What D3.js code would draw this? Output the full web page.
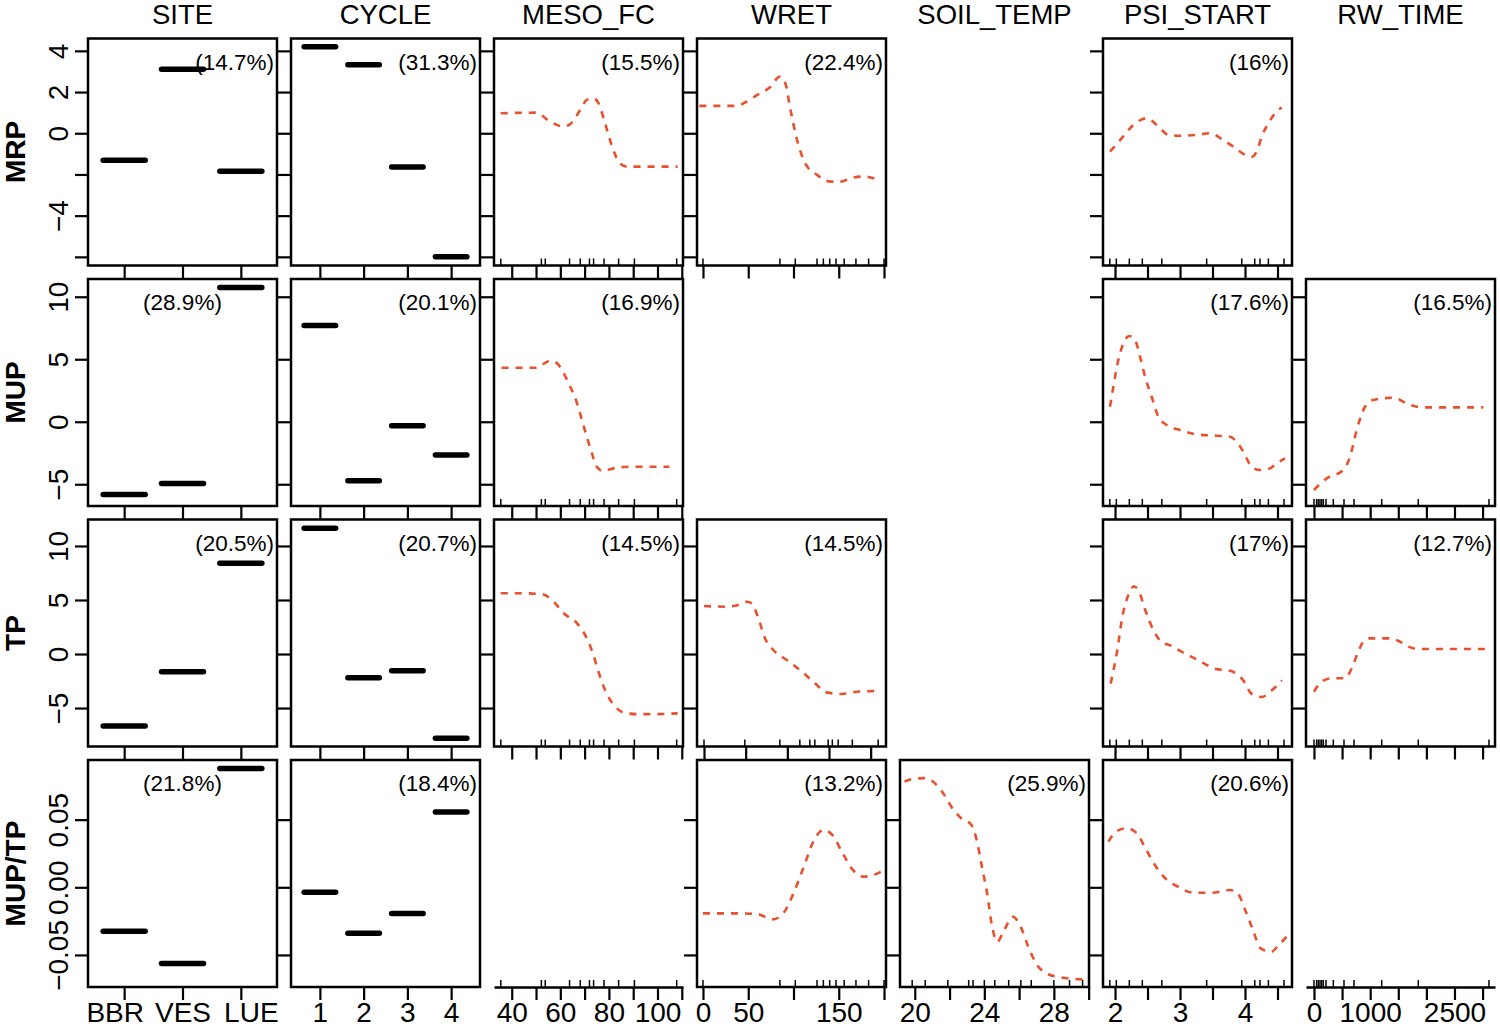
<!DOCTYPE html>
<html>
<head>
<meta charset="utf-8">
<script src="https://cdn.jsdelivr.net/npm/d3@7"></script>
<style>
  body { margin: 0; background: #fff; }
  svg text { font-family: "Liberation Sans", Arial, Helvetica, sans-serif; fill: #000; }
</style>
</head>
<body>
<div id="chart"></div>
<script>
// rows = responses, columns = predictors
var responses = ["MRP", "MUP", "TP", "MUP/TP"];
var predictors = ["SITE", "CYCLE", "MESO_FC", "WRET", "SOIL_TEMP", "PSI_START", "RW_TIME"];

// factor levels
var siteLevels = ["BBR", "VES", "LUE"];
var cycleLevels = ["1", "2", "3", "4"];

// relative influence (%), null = predictor not in the model
var infMRP = [14.7, 31.3, 15.5, 22.4, null, 16, null];
var infMUP = [28.9, 20.1, 16.9, null, null, 17.6, 16.5];
var infTP = [20.5, 20.7, 14.5, 14.5, null, 17, 12.7];
var infRatio = [21.8, 18.4, null, 13.2, 25.9, 20.6, null];

// y limits and ticks for each response
var limMRP = [-6.42, 4.6];
var limMUP = [-6.74, 11.42];
var limTP = [-8.56, 12.45];
var limRatio = [-0.0737, 0.0941];
var ticksMRP = [-6, -4, -2, 0, 2, 4];
var labelsMRP = ["", "\u22124", "", "0", "2", "4"];
var ticksMUP = [-5, 0, 5, 10];
var labelsMUP = ["\u22125", "0", "5", "10"];
var ticksTP = [-5, 0, 5, 10];
var labelsTP = ["\u22125", "0", "5", "10"];
var ticksRatio = [-0.05, 0, 0.05];
var labelsRatio = ["\u22120.05", "0.00", "0.05"];

// factor effects
var siteMRP = [-1.31, 3.11, -1.84];
var siteMUP = [-5.81, -4.93, 10.75];
var siteTP = [-6.67, -1.64, 8.4];
var siteRatio = [-0.0324, -0.0563, 0.0879];
var cycleMRP = [4.2, 3.33, -1.64, -6.0];
var cycleMUP = [7.71, -4.72, -0.32, -2.66];
var cycleTP = [11.64, -2.19, -1.54, -7.8];
var cycleRatio = [-0.0037, -0.0339, -0.0193, 0.0556];

// partial dependence curves [x, effect]
var mesoMRP = [[35.5, 0.97], [49.8, 1.0], [55.9, 0.56], [61.4, 0.32], [64.1, 0.45], [68.2, 1.13], [70.9, 1.62], [73.6, 1.7], [75.7, 1.46], [78.4, 0.49], [81.8, -0.81], [84.5, -1.46], [87.3, -1.62], [95.4, -1.62], [108.3, -1.62]];
var mesoMUP = [[35.8, 4.32], [45.1, 4.32], [49.8, 4.32], [55.9, 4.88], [58.7, 4.67], [61.4, 3.87], [64.1, 2.8], [66.9, 1.47], [68.9, 0.14], [70.9, -1.2], [73, -2.53], [75, -3.6], [77.5, -3.94], [81.8, -3.73], [88.6, -3.6], [104.9, -3.6]];
var mesoTP = [[35.5, 5.62], [45.1, 5.62], [52.6, 5.53], [56.6, 5.0], [61.4, 3.77], [66.9, 2.84], [70.9, 1.45], [73.6, -0.09], [75.7, -1.64], [78.4, -3.33], [81.8, -4.66], [85.9, -5.4], [91.3, -5.56], [99.5, -5.56], [108.3, -5.49]];
var wretMRP = [[-4, 1.33], [11, 1.33], [37, 1.33], [48, 1.53], [60, 1.86], [74, 2.23], [85, 2.75], [91, 2.43], [96, 1.29], [104, -0.33], [113, -1.46], [126, -2.02], [141, -2.35], [152, -2.35], [163, -2.18], [178, -2.1], [194, -2.27]];
var wretTP = [[0, 4.44], [27.2, 4.38], [41.2, 4.54], [51.3, 4.84], [57.3, 4.69], [65.2, 3.31], [73.2, 1.45], [83.2, 0.37], [99.3, -0.56], [115.2, -1.48], [131.2, -2.56], [147.3, -3.55], [165.3, -3.7], [183.3, -3.49], [211.3, -3.43]];
var wretRatio = [[0, -0.0193], [20, -0.0193], [42.9, -0.0193], [59.9, -0.0198], [77.1, -0.0237], [88.6, -0.0193], [100, -0.0044], [111.4, 0.0153], [122.8, 0.035], [133.1, 0.0424], [142.8, 0.0387], [154.3, 0.0252], [165.7, 0.0128], [177.1, 0.0079], [188.6, 0.0091], [197.1, 0.0116]];
var soilRatio = [[19.41, 0.0782], [19.85, 0.08], [20.59, 0.0807], [21.04, 0.0782], [21.63, 0.0696], [22.22, 0.0573], [22.67, 0.0511], [23.26, 0.0461], [23.56, 0.035], [23.86, 0.0153], [24.16, -0.0044], [24.45, -0.0292], [24.75, -0.0403], [25.05, -0.0341], [25.64, -0.0218], [26.09, -0.0292], [26.53, -0.044], [26.98, -0.0563], [27.57, -0.0637], [28.46, -0.0667], [29.65, -0.0681]];
var psiMRP = [[1.923, -0.89], [2.103, -0.24], [2.282, 0.4], [2.487, 0.73], [2.564, 0.61], [2.718, 0.16], [2.82, -0.08], [3.0, -0.12], [3.256, -0.08], [3.462, 0.0], [3.667, -0.33], [3.82, -0.65], [3.974, -1.0], [4.103, -1.14], [4.18, -0.89], [4.256, -0.17], [4.36, 0.49], [4.487, 1.05], [4.564, 1.25]];
var psiMUP = [[1.923, 1.2], [1.974, 2.8], [2.051, 4.94], [2.128, 6.27], [2.22, 6.86], [2.308, 6.54], [2.385, 5.2], [2.462, 3.6], [2.564, 2.0], [2.667, 0.4], [2.795, -0.26], [3.0, -0.66], [3.256, -1.01], [3.564, -1.12], [3.769, -1.2], [3.872, -1.6], [3.974, -2.4], [4.103, -3.6], [4.231, -3.86], [4.385, -3.73], [4.487, -3.33], [4.615, -2.93]];
var psiTP = [[1.932, -2.74], [2.026, 0.04], [2.122, 3.74], [2.215, 5.59], [2.291, 6.27], [2.372, 5.74], [2.466, 4.05], [2.592, 2.19], [2.717, 1.11], [2.843, 0.81], [3.031, 0.19], [3.283, -0.58], [3.534, -1.35], [3.785, -1.57], [3.974, -2.44], [4.098, -3.67], [4.255, -3.98], [4.412, -3.36], [4.569, -2.44]];
var psiRatio = [[1.898, 0.0338], [2.017, 0.0412], [2.177, 0.0437], [2.335, 0.04], [2.454, 0.0301], [2.614, 0.0165], [2.772, 0.0067], [2.971, 0.0004], [3.209, -0.004], [3.488, -0.004], [3.766, -0.002], [3.885, -0.0044], [4.003, -0.0168], [4.122, -0.0316], [4.241, -0.0452], [4.4, -0.0477], [4.52, -0.0427], [4.638, -0.0366]];
var rwMUP = [[0, -5.46], [226, -4.53], [521, -3.86], [641, -2.8], [760, -0.66], [907, 1.2], [1055, 1.74], [1411, 1.92], [1708, 1.34], [1945, 1.15], [2301, 1.15], [3012, 1.15]];
var rwTP = [[0, -3.49], [137, -2.56], [315, -2.25], [552, -2.25], [671, -1.33], [789, 0.22], [878, 1.14], [996, 1.45], [1352, 1.45], [1530, 1.14], [1679, 0.68], [1856, 0.46], [2242, 0.46], [3132, 0.46]];

// x limits, ticks and tick labels of the continuous predictors
var mesoLim = [32.7, 110.5];
var mesoTicks = [40, 50, 60, 70, 80, 90, 100, 110];
var mesoLabels = ["40", "", "60", "", "80", "", "100", ""];
var wretLim = [-6.6, 202.2];
var wretLimTP = [-8.4, 218.4];
var wretTicks = [0, 50, 100, 150, 200];
var wretLabels = ["0", "50", "", "150", ""];
var soilLim = [19.15, 30.02];
var soilTicks = [20, 22, 24, 26, 28, 30];
var soilLabels = ["20", "", "24", "", "28", ""];
var psiLim = [1.815, 4.723];
var psiTicks = [2, 2.5, 3, 3.5, 4, 4.5];
var psiLabels = ["2", "", "3", "", "4", ""];
var rwLim = [-142, 3221];
var rwTicks = [0, 500, 1000, 1500, 2000, 2500, 3000];
var rwLabels = ["0", "", "1000", "", "", "2500", ""];

// rug (deciles of the predictor)
var mesoRug = [35.5, 52.2, 53.8, 63.8, 68.2, 72, 73.7, 78, 84, 90.5, 107.9];
var wretRug = [0, 85, 102, 126, 133, 140, 147, 156, 169, 183, 200];
var wretRugTP = [0, 49, 91, 115, 127, 133, 149, 154, 161, 178, 209];
var soilRug = [19.85, 20.6, 21.9, 23.1, 23.35, 24.0, 24.6, 25.4, 26.1, 26.7, 28.0, 28.9, 29.65];
var psiRug = [1.92, 2.02, 2.22, 2.42, 2.72, 3.41, 3.95, 4.15, 4.23, 4.36, 4.6];
var rwRug = [0, 47, 77, 107, 137, 166, 214, 344, 534, 712, 1205, 1856, 3114];

// layout / style
var W = 1500, H = 1029;
var left0 = 88, top0 = 38.5, panelW = 189, panelH = 227, stepX = 203, stepY = 240.5;
var tickLen = 13, rugLen = 7;
var curveColor = "#e8502e";
var siteLabelShift = [-9.5, 0, 10]; // the site names are spread a little wider than their ticks
var centeredInfluence = ["MUP|SITE", "MUP/TP|SITE"]; // influence text put at top centre

var rows = [
    {name: responses[0], yLim: limMRP, yTicks: ticksMRP, yLabels: labelsMRP, site: siteMRP, cycle: cycleMRP,
        curves: [null, null, mesoMRP, wretMRP, null, psiMRP, null], inf: infMRP, wretLim: wretLim, wretRug: wretRug},
    {name: responses[1], yLim: limMUP, yTicks: ticksMUP, yLabels: labelsMUP, site: siteMUP, cycle: cycleMUP,
        curves: [null, null, mesoMUP, null, null, psiMUP, rwMUP], inf: infMUP, wretLim: wretLim, wretRug: wretRug},
    {name: responses[2], yLim: limTP, yTicks: ticksTP, yLabels: labelsTP, site: siteTP, cycle: cycleTP,
        curves: [null, null, mesoTP, wretTP, null, psiTP, rwTP], inf: infTP, wretLim: wretLimTP, wretRug: wretRugTP},
    {name: responses[3], yLim: limRatio, yTicks: ticksRatio, yLabels: labelsRatio, site: siteRatio, cycle: cycleRatio,
        curves: [null, null, null, wretRatio, soilRatio, psiRatio, null], inf: infRatio, wretLim: wretLim, wretRug: wretRug}
];

var contLim = [null, null, mesoLim, null, soilLim, psiLim, rwLim];
var contTicks = [null, null, mesoTicks, wretTicks, soilTicks, psiTicks, rwTicks];
var contLabels = [null, null, mesoLabels, wretLabels, soilLabels, psiLabels, rwLabels];
var contRug = [null, null, mesoRug, null, soilRug, psiRug, rwRug];

// R style axis range: data range widened by 4%
function rPad(lim) {
    "use strict";
    var d = (lim[1] - lim[0]) * 0.04;
    return [lim[0] - d, lim[1] + d];
}

var svg = d3.select("#chart")
    .append("svg")
    .attr("width", W)
    .attr("height", H);

svg.append("rect")
    .attr("width", W)
    .attr("height", H)
    .attr("fill", "#fff");

//Column titles
predictors.forEach(function (p, c) {
    svg.append("text")
        .attr("x", left0 + c * stepX + panelW / 2)
        .attr("y", 24)
        .attr("text-anchor", "middle")
        .style("font-size", "27.5px")
        .text(p);
});

var line = d3.line().curve(d3.curveMonotoneX);

rows.forEach(function (row, r) {
    var top = top0 + r * stepY;
    var bottom = top + panelH;
    var isLast = r === rows.length - 1;
    var y = d3.scaleLinear().domain(row.yLim).range([bottom, top]);

    //Row label
    svg.append("text")
        .attr("transform", "translate(25," + (top + panelH / 2) + ") rotate(-90)")
        .attr("text-anchor", "middle")
        .style("font-size", "28px")
        .style("font-weight", "bold")
        .text(row.name);

    predictors.forEach(function (p, c) {
        var left = left0 + c * stepX;
        var right = left + panelW;
        var g = svg.append("g");
        var x, ticks, labels, rug = null, lim;
        var isFactor = c < 2;
        var curve = row.curves[c];
        var hasModel = isFactor || curve !== null;

        if (isFactor) {
            var levels = c === 0 ? siteLevels : cycleLevels;
            x = d3.scaleLinear().domain(rPad([0.5, levels.length + 0.5])).range([left, right]);
            ticks = d3.range(1, levels.length + 1);
            labels = levels;
        } else {
            lim = c === 3 ? row.wretLim : contLim[c];
            x = d3.scaleLinear().domain(lim).range([left, right]);
            ticks = contTicks[c];
            labels = contLabels[c];
            rug = c === 3 ? row.wretRug : contRug[c];
        }

        //Empty panels: only the bottom row keeps its x axis
        if (!hasModel && !isLast) {
            return;
        }

        //Bottom axis
        var xAxis = d3.axisBottom(x)
            .tickValues(ticks)
            .tickSize(tickLen)
            .tickSizeOuter(0)
            .tickFormat(function (d, i) {
                return isLast ? labels[i] : "";
            });
        var gx = g.append("g")
            .attr("transform", "translate(0," + bottom + ")")
            .call(xAxis)
            .attr("font-size", 28);
        gx.selectAll("line").attr("stroke-width", 2.2);
        gx.selectAll("text")
            .attr("y", 35)
            .attr("dy", 0)
            .attr("x", function (d, i) {
                return c === 0 ? siteLabelShift[i] : 0;
            });
        if (hasModel) {
            gx.select(".domain").remove();
        } else {
            gx.select(".domain").attr("stroke-width", 2.5);
        }

        //Rug
        if (rug) {
            g.append("g")
                .selectAll("line")
                .data(rug)
                .enter()
                .append("line")
                .attr("x1", function (d) { return x(d); })
                .attr("x2", function (d) { return x(d); })
                .attr("y1", bottom)
                .attr("y2", bottom - rugLen)
                .attr("stroke", "#000")
                .attr("stroke-width", 1.5);
        }

        if (!hasModel) {
            return;
        }

        //Left axis
        var yAxis = d3.axisLeft(y)
            .tickValues(row.yTicks)
            .tickSize(tickLen)
            .tickSizeOuter(0)
            .tickFormat(function (d, i) {
                return c === 0 ? row.yLabels[i] : "";
            });
        var gy = g.append("g")
            .attr("transform", "translate(" + left + ",0)")
            .call(yAxis)
            .attr("font-size", 28);
        gy.select(".domain").remove();
        gy.selectAll("line").attr("stroke-width", 2.2);
        gy.selectAll("text")
            .attr("x", 0)
            .attr("y", -20)
            .attr("dy", 0)
            .attr("text-anchor", "middle")
            .attr("transform", "rotate(-90)");

        //Marks
        if (isFactor) {
            var vals = c === 0 ? row.site : row.cycle;
            g.selectAll(".level")
                .data(vals)
                .enter()
                .append("line")
                .attr("class", "level")
                .attr("x1", function (d, i) { return x(i + 1 - 0.36); })
                .attr("x2", function (d, i) { return x(i + 1 + 0.36); })
                .attr("y1", function (d) { return y(d); })
                .attr("y2", function (d) { return y(d); })
                .attr("stroke", "#000")
                .attr("stroke-width", 5.5)
                .attr("stroke-linecap", "round");
        } else {
            line.x(function (d) { return x(d[0]); })
                .y(function (d) { return y(d[1]); });
            g.append("path")
                .datum(curve)
                .attr("d", line)
                .attr("fill", "none")
                .attr("stroke", curveColor)
                .attr("stroke-width", 2.6)
                .attr("stroke-dasharray", "7,7");
        }

        //Box
        g.append("rect")
            .attr("x", left)
            .attr("y", top)
            .attr("width", panelW)
            .attr("height", panelH)
            .attr("fill", "none")
            .attr("stroke", "#000")
            .attr("stroke-width", 2.5);

        //Relative influence
        if (row.inf[c] !== null) {
            var centered = centeredInfluence.indexOf(row.name + "|" + p) >= 0;
            g.append("text")
                .attr("x", centered ? (left + right) / 2 : right - 3)
                .attr("y", top + 31)
                .attr("text-anchor", centered ? "middle" : "end")
                .style("font-size", "22.5px")
                .text("(" + row.inf[c] + "%)");
        }
    });
});
</script>
</body>
</html>
